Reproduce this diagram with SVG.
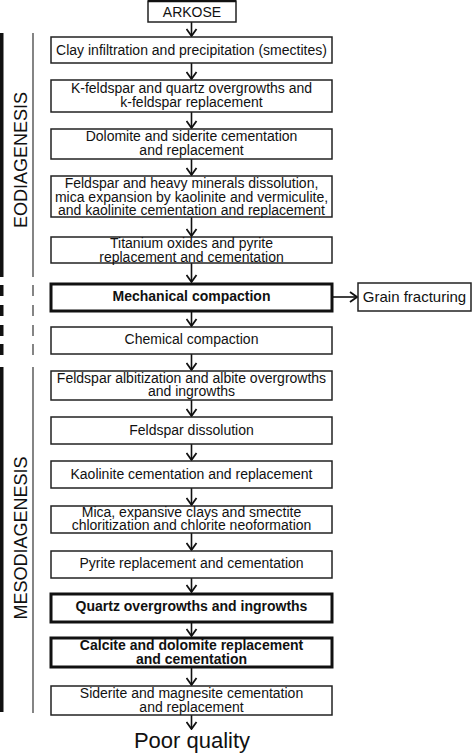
<svg xmlns="http://www.w3.org/2000/svg" width="474" height="753" viewBox="0 0 474 753">
<style>
.box{fill:#fff;stroke:#222;stroke-width:1.5}
.bold{fill:#fff;stroke:#111;stroke-width:3}
.t{font-family:"Liberation Sans",Arial,sans-serif;font-size:14px;fill:#111;text-anchor:middle}
.tb{font-family:"Liberation Sans",Arial,sans-serif;font-size:14px;font-weight:bold;fill:#111;text-anchor:middle}
.stage{font-family:"Liberation Sans",Arial,sans-serif;font-size:18px;fill:#111;text-anchor:middle}
.c{stroke:#111;stroke-width:1.6;fill:none}
</style>
<defs>
<marker id="arr" viewBox="-1 -6 9 12" refX="7" refY="0" markerWidth="9" markerHeight="12" markerUnits="userSpaceOnUse" orient="auto">
<path d="M0,-5 L7,0 L0,5" fill="none" stroke="#111" stroke-width="1.8"/>
</marker>
</defs>
<rect width="474" height="753" fill="#fff"/>

<g id="brackets">
<rect x="0" y="33" width="3.5" height="244" fill="#111"/>
<rect x="0" y="285" width="3.5" height="11" fill="#111"/>
<rect x="0" y="305" width="3.5" height="11" fill="#111"/>
<rect x="0" y="325" width="3.5" height="11" fill="#111"/>
<rect x="0" y="344" width="3.5" height="11" fill="#111"/>
<rect x="0" y="367" width="3.5" height="345" fill="#111"/>
<line x1="33" y1="33" x2="33" y2="277" stroke="#333" stroke-width="1.2"/>
<line x1="33" y1="285" x2="33" y2="296" stroke="#333" stroke-width="1.2"/>
<line x1="33" y1="305" x2="33" y2="316" stroke="#333" stroke-width="1.2"/>
<line x1="33" y1="325" x2="33" y2="336" stroke="#333" stroke-width="1.2"/>
<line x1="33" y1="344" x2="33" y2="355" stroke="#333" stroke-width="1.2"/>
<line x1="33" y1="367" x2="33" y2="713" stroke="#333" stroke-width="1.2"/>
<text class="stage" transform="translate(26.5,160) rotate(-90)">EODIAGENESIS</text>
<text class="stage" transform="translate(26.5,538) rotate(-90)">MESODIAGENESIS</text>
</g>

<g id="connectors">
<line class="c" x1="191.5" y1="22" x2="191.5" y2="36" marker-end="url(#arr)"/>
<line class="c" x1="191.5" y1="63" x2="191.5" y2="79" marker-end="url(#arr)"/>
<line class="c" x1="191.5" y1="112" x2="191.5" y2="128" marker-end="url(#arr)"/>
<line class="c" x1="191.5" y1="159" x2="191.5" y2="175" marker-end="url(#arr)"/>
<line class="c" x1="191.5" y1="217" x2="191.5" y2="236" marker-end="url(#arr)"/>
<line class="c" x1="191.5" y1="263" x2="191.5" y2="282" marker-end="url(#arr)"/>
<line class="c" x1="191.5" y1="311" x2="191.5" y2="326" marker-end="url(#arr)"/>
<line class="c" x1="191.5" y1="354" x2="191.5" y2="370" marker-end="url(#arr)"/>
<line class="c" x1="191.5" y1="400" x2="191.5" y2="416" marker-end="url(#arr)"/>
<line class="c" x1="191.5" y1="444" x2="191.5" y2="460" marker-end="url(#arr)"/>
<line class="c" x1="191.5" y1="488" x2="191.5" y2="505" marker-end="url(#arr)"/>
<line class="c" x1="191.5" y1="533" x2="191.5" y2="550" marker-end="url(#arr)"/>
<line class="c" x1="191.5" y1="578" x2="191.5" y2="592" marker-end="url(#arr)"/>
<line class="c" x1="191.5" y1="622" x2="191.5" y2="636" marker-end="url(#arr)"/>
<line class="c" x1="191.5" y1="667" x2="191.5" y2="685" marker-end="url(#arr)"/>
<line class="c" x1="191.5" y1="715" x2="191.5" y2="729" marker-end="url(#arr)"/>
<line class="c" x1="333" y1="297" x2="357" y2="297" marker-end="url(#arr)"/>
</g>

<g id="arkose">
<rect class="box" x="148" y="1" width="88" height="21"/>
<line x1="148" y1="1" x2="236" y2="1" stroke="#111" stroke-width="2.5"/>
<text class="t" x="192" y="17">ARKOSE</text>
</g>
<g id="clay">
<rect class="box" x="51" y="37" width="281" height="26"/>
<text class="t" x="191.5" y="55">Clay infiltration and precipitation (smectites)</text>
</g>
<g id="kfeldspar">
<rect class="box" x="51" y="80" width="281" height="32"/>
<text class="t" x="191.5" y="93">K-feldspar and quartz overgrowths and</text>
<text class="t" x="191.5" y="107">k-feldspar replacement</text>
</g>
<g id="dolomite">
<rect class="box" x="51" y="129" width="281" height="30"/>
<text class="t" x="191.5" y="141">Dolomite and siderite cementation</text>
<text class="t" x="191.5" y="155">and replacement</text>
</g>
<g id="feldspar-heavy">
<rect class="box" x="51" y="176" width="281" height="41"/>
<text class="t" x="191.5" y="188">Feldspar and heavy minerals dissolution,</text>
<text class="t" x="191.5" y="201.5">mica expansion by kaolinite and vermiculite,</text>
<text class="t" x="191.5" y="215">and kaolinite cementation and replacement</text>
</g>
<g id="titanium">
<rect class="box" x="51" y="237" width="281" height="26"/>
<text class="t" x="191.5" y="248">Titanium oxides and pyrite</text>
<text class="t" x="191.5" y="262">replacement and cementation</text>
</g>
<g id="mechanical">
<rect class="bold" x="51" y="284" width="281" height="27"/>
<text class="tb" x="191.5" y="301">Mechanical compaction</text>
</g>
<g id="grain">
<rect class="box" x="358" y="283" width="113" height="28"/>
<text class="t" x="414.5" y="302" style="font-size:15px">Grain fracturing</text>
</g>
<g id="chemical">
<rect class="box" x="51" y="327" width="281" height="27"/>
<text class="t" x="191.5" y="344">Chemical compaction</text>
</g>
<g id="albitization">
<rect class="box" x="51" y="371" width="281" height="29"/>
<text class="t" x="191.5" y="383">Feldspar albitization and albite overgrowths</text>
<text class="t" x="191.5" y="396">and ingrowths</text>
</g>
<g id="fdissolution">
<rect class="box" x="51" y="417" width="281" height="27"/>
<text class="t" x="191.5" y="435">Feldspar dissolution</text>
</g>
<g id="kaolinite">
<rect class="box" x="51" y="461" width="281" height="27"/>
<text class="t" x="191.5" y="479">Kaolinite cementation and replacement</text>
</g>
<g id="mica">
<rect class="box" x="51" y="506" width="281" height="27"/>
<text class="t" x="191.5" y="517">Mica, expansive clays and smectite</text>
<text class="t" x="191.5" y="530">chloritization and chlorite neoformation</text>
</g>
<g id="pyrite">
<rect class="box" x="51" y="551" width="281" height="27"/>
<text class="t" x="191.5" y="568">Pyrite replacement and cementation</text>
</g>
<g id="quartz">
<rect class="bold" x="51" y="594" width="281" height="28"/>
<text class="tb" x="191.5" y="611">Quartz overgrowths and ingrowths</text>
</g>
<g id="calcite">
<rect class="bold" x="51" y="638" width="281" height="29"/>
<text class="tb" x="191.5" y="650">Calcite and dolomite replacement</text>
<text class="tb" x="191.5" y="664">and cementation</text>
</g>
<g id="siderite">
<rect class="box" x="51" y="686" width="281" height="29"/>
<text class="t" x="191.5" y="698">Siderite and magnesite cementation</text>
<text class="t" x="191.5" y="712">and replacement</text>
</g>
<g id="poor">
<text class="t" x="192" y="748" style="font-size:22px">Poor quality</text>
</g>
</svg>
